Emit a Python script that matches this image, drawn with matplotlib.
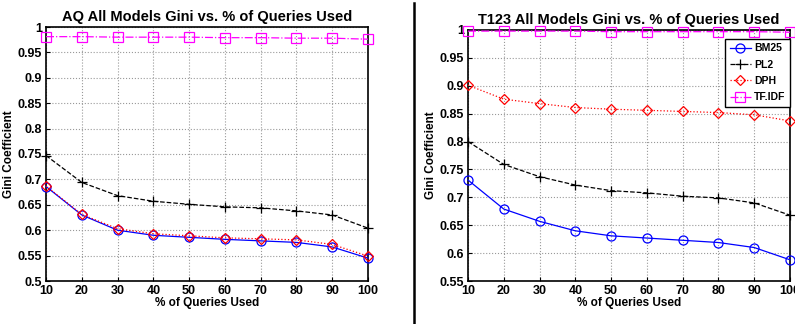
import numpy as np
import matplotlib.pyplot as plt
from matplotlib.lines import Line2D

plt.rcParams['font.family'] = ['Liberation Sans', 'DejaVu Sans']
plt.rcParams['font.weight'] = 'bold'

# % of queries used
pct = [10, 20, 30, 40, 50, 60, 70, 80, 90, 100]

# AQ collection
aq_bm25 = [0.686, 0.630, 0.600, 0.590, 0.586, 0.582, 0.579, 0.576, 0.567, 0.545]
aq_pl2 = [0.747, 0.694, 0.668, 0.657, 0.651, 0.646, 0.644, 0.638, 0.630, 0.604]
aq_dph = [0.687, 0.631, 0.603, 0.593, 0.589, 0.585, 0.583, 0.581, 0.572, 0.549]
aq_tfidf = [0.981, 0.981, 0.980, 0.980, 0.980, 0.979, 0.979, 0.978, 0.978, 0.976]

# T123 collection
t_bm25 = [0.731, 0.679, 0.657, 0.640, 0.631, 0.627, 0.623, 0.619, 0.610, 0.588]
t_pl2 = [0.800, 0.759, 0.737, 0.722, 0.712, 0.708, 0.702, 0.699, 0.690, 0.668]
t_dph = [0.901, 0.876, 0.868, 0.861, 0.858, 0.856, 0.854, 0.852, 0.848, 0.837]
t_tfidf = [0.998, 0.998, 0.998, 0.998, 0.997, 0.997, 0.997, 0.997, 0.997, 0.996]

modelos = ['BM25', 'PL2', 'DPH', 'TF.IDF']
estilos = [
    dict(color='blue', linestyle='-', marker='o', lw=0.9),
    dict(color='black', linestyle='--', marker='+', lw=0.9),
    dict(color='red', linestyle=':', marker='D', lw=0.9),
    dict(color='magenta', linestyle='-.', marker='s', lw=0.9),
]


def desenhar(ax, series, titulo, ylim, yticks):
    for valores, nome, est in zip(series, modelos, estilos):
        ms = 5.5 if est['marker'] == 'D' else 6.5
        ax.plot(pct, valores, label=nome, markersize=ms, markerfacecolor='none',
                markeredgewidth=0.9, clip_on=False, zorder=3, **est)
    ax.set_xlim(10, 100)
    ax.set_ylim(*ylim)
    ax.set_xticks(pct)
    ax.set_yticks(yticks)
    ax.set_yticklabels([('%g' % v) for v in yticks])
    ax.grid(True, linestyle=':', color='#999999', lw=0.8)
    ax.tick_params(direction='in', labelsize=9, length=3, pad=3)
    for s in ax.spines.values():
        s.set_linewidth(1.2)
    ax.set_title(titulo, fontsize=10.5, fontweight='bold', pad=4)
    ax.set_xlabel('% of Queries Used', fontsize=8.5, fontweight='bold', labelpad=0)
    ax.set_ylabel('Gini Coefficient', fontsize=8.5, fontweight='bold', labelpad=2)


fig = plt.figure(figsize=(7.95, 3.24), dpi=100)
ax1 = fig.add_axes([46 / 795, 43 / 324, 322 / 795, 254 / 324])
ax2 = fig.add_axes([468 / 795, 43 / 324, 322 / 795, 251 / 324])

desenhar(ax1, [aq_bm25, aq_pl2, aq_dph, aq_tfidf], 'AQ All Models Gini vs. % of Queries Used',
         (0.5, 1.0), np.arange(0.5, 1.001, 0.05).round(2))
desenhar(ax2, [t_bm25, t_pl2, t_dph, t_tfidf], 'T123 All Models Gini vs. % of Queries Used',
         (0.55, 1.0), np.arange(0.55, 1.001, 0.05).round(2))

leg = ax2.legend(loc='upper right', bbox_to_anchor=(1.0, 0.965), borderaxespad=0,
                 prop={'weight': 'bold', 'size': 7.5},
                 fancybox=False, edgecolor='black', framealpha=1, handlelength=2.0,
                 borderpad=0.45, labelspacing=0.6, handletextpad=0.3)
leg.get_frame().set_linewidth(1.0)

# linha separadora entre os dois gráficos
fig.add_artist(Line2D([414 / 795, 414 / 795], [0, 321 / 324], color='black', lw=1.8))

fig.savefig('out.png', dpi=100)
